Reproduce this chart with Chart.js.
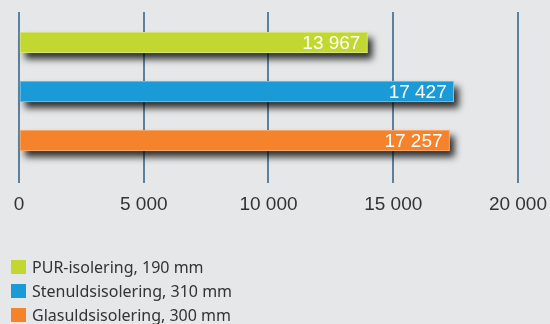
<!DOCTYPE html>
<html>
<head>
<meta charset="utf-8">
<script src="https://cdn.jsdelivr.net/npm/chart.js@4/dist/chart.umd.min.js"></script>
<style>
  html, body { margin: 0; padding: 0; background: #e6e7e8; }
  #wrap { position: relative; width: 550px; height: 324px; }
  #legend { position: absolute; left: 11px; top: 255px; font-family: "Noto Sans"; font-size: 16px; color: #333; }
  .row { height: 24px; display: flex; align-items: center; white-space: nowrap; }
  .box { width: 15px; height: 14px; margin-right: 6px; }
</style>
</head>
<body>
<div id="wrap">
  <canvas id="chart" width="550" height="324"></canvas>
  <div id="legend"></div>
</div>
<script>
const categories = ['PUR-isolering, 190 mm', 'Stenuldsisolering, 310 mm', 'Glasuldsisolering, 300 mm'];
const values = [13967, 17427, 17257];
const tickValues = [0, 5000, 10000, 15000, 20000];
const barColors = ['#c2d72f', '#1a9bd7', '#f5832b'];
const barBorders = ['#dde88c', '#7cc6ea', '#f9b27c'];
const gridColor = '#5d819d';

const fmt = n => n.toString().replace(/\B(?=(\d{3})+(?!\d))/g, ' ');

// extend gridlines a bit above the plot, draw bar shadows, then value labels
const barExtras = {
    id: 'barExtras',
    beforeDatasetsDraw(chart) {
        const ctx = chart.ctx;
        const x = chart.scales.x;
        const top = chart.chartArea.top;
        ctx.save();
        ctx.strokeStyle = gridColor;
        ctx.lineWidth = 2;
        x.ticks.forEach(t => {
            const px = Math.round(x.getPixelForValue(t.value));
            ctx.beginPath();
            ctx.moveTo(px, top - 6);
            ctx.lineTo(px, top);
            ctx.stroke();
        });
        ctx.restore();

        const meta = chart.getDatasetMeta(0);
        ctx.save();
        ctx.shadowColor = 'rgba(0,0,0,0.8)';
        ctx.shadowBlur = 7;
        ctx.shadowOffsetX = 5;
        ctx.shadowOffsetY = 6;
        meta.data.forEach((bar, i) => {
            const p = bar.getProps(['x', 'y', 'base', 'height']);
            ctx.fillStyle = barColors[i];
            ctx.fillRect(p.base, p.y - p.height / 2, p.x - p.base, p.height);
        });
        ctx.restore();
    },
    afterDatasetsDraw(chart) {
        const ctx = chart.ctx;
        const meta = chart.getDatasetMeta(0);
        ctx.save();
        ctx.fillStyle = '#ffffff';
        ctx.font = '19px "Liberation Sans"';
        ctx.textAlign = 'right';
        ctx.textBaseline = 'middle';
        meta.data.forEach((bar, i) => {
            ctx.fillText(fmt(values[i]), bar.x - 7, bar.y + 1);
        });
        ctx.restore();
    }
};

new Chart(document.getElementById('chart'), {
    type: 'bar',
    data: {
        labels: categories,
        datasets: [{
            data: values,
            backgroundColor: barColors,
            borderColor: barBorders,
            borderWidth: 1,
            borderSkipped: false,
            barThickness: 21
        }]
    },
    options: {
        indexAxis: 'y',
        responsive: false,
        animation: false,
        layout: { padding: { left: 19, right: 0, top: 18, bottom: 97 } },
        plugins: { legend: { display: false }, tooltip: { enabled: false } },
        scales: {
            y: { display: false },
            x: {
                min: 0,
                max: 20000,
                afterBuildTicks: s => { s.ticks = tickValues.map(v => ({ value: v })); },
                border: { display: false },
                grid: { color: gridColor, lineWidth: 2, tickLength: 18, tickColor: gridColor },
                ticks: {
                    padding: 3,
                    color: '#333',
                    font: { family: 'Liberation Sans', size: 19, lineHeight: 2 },
                    callback: v => fmt(v)
                }
            }
        }
    },
    plugins: [barExtras]
});

const legend = document.getElementById('legend');
categories.forEach((c, i) => {
    const row = document.createElement('div');
    row.className = 'row';
    row.innerHTML = '<span class="box" style="background:' + barColors[i] + '"></span><span>' + c + '</span>';
    legend.appendChild(row);
});
</script>
</body>
</html>
